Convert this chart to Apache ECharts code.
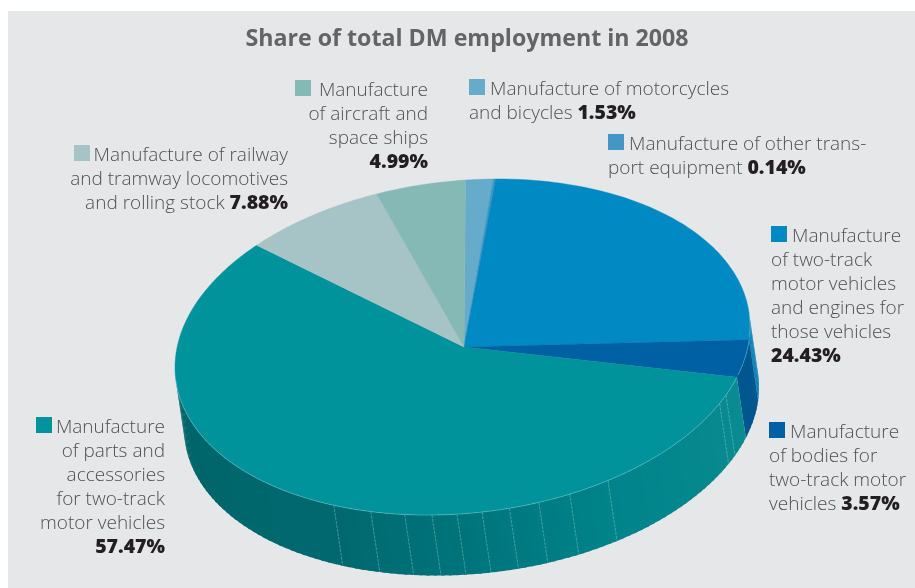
<!DOCTYPE html>
<html>
<head>
<meta charset="utf-8">
<style>html,body{margin:0;padding:0;background:#fff}#chart{width:915px;height:588px}</style>
<script src="https://cdn.jsdelivr.net/npm/echarts@6/dist/echarts.min.js"></script>
</head>
<body>
<div id="chart"></div>
<script>
// Employment shares, clockwise from twelve o'clock
const categories = [
  'Manufacture of motorcycles\nand bicycles',
  'Manufacture of other trans-\nport equipment',
  'Manufacture\nof two-track\nmotor vehicles\nand engines for\nthose vehicles',
  'Manufacture\nof bodies for\ntwo-track motor\nvehicles',
  'Manufacture\nof parts and\naccessories\nfor two-track\nmotor vehicles',
  'Manufacture of railway\nand tramway locomotives\nand rolling stock',
  'Manufacture\nof aircraft and\nspace ships'
];
const shares = [1.53, 0.14, 24.43, 3.57, 57.47, 7.88, 4.99];

const topColors = ['#66abc9', '#4497c4', '#0089c2', '#0060a4', '#00939c', '#a6c4c5', '#85b9b6'];
const wallColors = ['#5a9ab5', '#3a88b0', '#0a82b8', '#00578f', null, '#8fb0b0', '#74a5a2'];
// Shading of the long front wall, by angle in degrees
const wallStops = [[106, '#0b8b92'], [150, '#00838a'], [180, '#00747b'], [205, '#00696f'], [265, '#00646a']];
// Seams between wall facets, by angle in degrees
const facetAngles = [113, 116, 149, 157.5, 164, 170, 175.5, 180.5, 185.5, 191, 198, 206];

// Text placement: sq = marker corner, x = text anchor, y = first line centre
const labelPlaces = [
  { sq: [469, 79], x: 469, first: 490, y: 89.5, align: 'left', own: false },
  { sq: [608, 134], x: 608, first: 629, y: 144.5, align: 'left', own: false },
  { sq: [771, 226], x: 771, first: 792, y: 236.5, align: 'left', own: true },
  { sq: [769, 422], x: 769, first: 790, y: 432.5, align: 'left', own: false },
  { sq: [36, 417], x: 165, first: 165, y: 427.5, align: 'right', own: true },
  { sq: [74, 145], x: 288, first: 288, y: 155.5, align: 'right', own: false },
  { sq: [295, 80], x: 428, first: 428, y: 90.5, align: 'right', own: true }
];

const FONT = '"Open Sans", sans-serif';
const apex = [464, 347];
const rimCentre = [462.5, 347];
const U = [287.5, -18.7];
const V = [3, -167];
const D = [9, 60.5];
const rad = Math.PI / 180;

const total = shares.reduce((a, b) => a + b, 0);
const starts = [];
shares.reduce((acc, s, i) => { starts[i] = acc; return acc + s; }, 0);

function rim(t) {
  const s = Math.sin(t * rad), c = Math.cos(t * rad);
  return [rimCentre[0] + U[0] * s + V[0] * c, rimCentre[1] + U[1] * s + V[1] * c];
}
function drop(p) { return [p[0] + D[0], p[1] + D[1]]; }
function wallFaces(t) {
  const s = Math.sin(t * rad), c = Math.cos(t * rad);
  const px = U[0] * c - V[0] * s, py = U[1] * c - V[1] * s;
  return D[0] * py - D[1] * px > 0;
}
function hex(c) { return [1, 3, 5].map(k => parseInt(c.slice(k, k + 2), 16)); }
function stopColor(t) {
  if (t <= wallStops[0][0]) return wallStops[0][1];
  for (let i = 1; i < wallStops.length; i++) {
    if (t <= wallStops[i][0]) {
      const a = wallStops[i - 1], b = wallStops[i];
      const f = (t - a[0]) / (b[0] - a[0]);
      const ca = hex(a[1]), cb = hex(b[1]);
      return 'rgb(' + ca.map((v, k) => Math.round(v + (cb[k] - v) * f)).join(',') + ')';
    }
  }
  return wallStops[wallStops.length - 1][1];
}

function renderSlice(params, api) {
  const i = params.dataIndex;
  const t0 = starts[i] / total * 360;
  const t1 = (starts[i] + api.value(1)) / total * 360;
  const children = [];
  const step = 1.5;

  // Side wall of the slice; each facet runs a little under the next to hide joins
  for (let t = t0; t < t1; t += step) {
    const e = Math.min(t + step, t1);
    if (!wallFaces((t + e) / 2)) continue;
    const col = wallColors[i] || stopColor((t + e) / 2);
    const a = rim(t), b = rim(Math.min(e + 0.6, t1));
    children.push({
      type: 'polygon',
      shape: { points: [a, b, drop(b), drop(a)] },
      style: { fill: col }
    });
  }

  // Pale seams across the wall
  facetAngles.filter(t => t >= t0 && t < t1).forEach(t => {
    const a = rim(t), b = drop(a);
    children.push({
      type: 'line',
      shape: { x1: a[0], y1: a[1], x2: b[0], y2: b[1] },
      style: { stroke: 'rgba(165,215,220,0.5)', lineWidth: 0.8, lineDash: [3, 1] }
    });
  });

  // Upper face
  const pts = [apex];
  for (let t = t0; t < t1; t += 1) pts.push(rim(t));
  pts.push(rim(t1));
  children.push({
    type: 'polygon',
    shape: { points: pts },
    style: { fill: topColors[i], stroke: topColors[i], lineWidth: 0.4 }
  });

  // Light edge where the upper face meets the front wall
  const edge = [];
  for (let t = Math.max(t0, 85); t <= Math.min(t1, 265); t += 1) edge.push(rim(t));
  if (edge.length > 1) {
    children.push({
      type: 'polyline',
      shape: { points: edge },
      style: { stroke: 'rgba(190,228,232,0.45)', lineWidth: 0.7, fill: null }
    });
  }
  return { type: 'group', children };
}

function renderLabel(params, api) {
  const i = params.dataIndex;
  const place = labelPlaces[i];
  const pct = api.value(1).toFixed(2) + '%';
  const lines = categories[i].split('\n').map(s => '{t|' + s + '}');
  if (place.own) lines.push('{b|' + pct + '}');
  else lines[lines.length - 1] = lines[lines.length - 1] + '{t| }{b|' + pct + '}';
  const rich = {
    t: { font: '300 19px ' + FONT, fill: '#4f5052' },
    b: { font: '800 19.5px ' + FONT, fill: '#231f20' }
  };
  const children = [{
    type: 'rect',
    shape: { x: place.sq[0], y: place.sq[1], width: 16, height: 16 },
    style: { fill: topColors[i] }
  }];
  lines.forEach((line, k) => {
    children.push({
      type: 'text',
      style: {
        text: line, rich,
        x: k === 0 ? place.first : place.x,
        y: place.y + k * 24,
        align: place.align,
        verticalAlign: 'middle'
      }
    });
  });
  return { type: 'group', children };
}

const rows = categories.map((name, i) => ({ name, value: [i, shares[i]] }));

const chart = echarts.init(document.getElementById('chart'), null, { renderer: 'canvas' });
chart.setOption({
  animation: false,
  backgroundColor: '#ffffff',
  title: {
    text: 'Share of total DM employment in 2008',
    left: 462,
    top: 23,
    textAlign: 'center',
    textStyle: { color: '#636466', fontFamily: FONT, fontWeight: 700, fontSize: 23.2 }
  },
  graphic: [{
    type: 'rect', z: -1, silent: true,
    shape: { x: 8, y: 11, width: 907, height: 577 },
    style: { fill: '#e6e7e9' }
  }],
  series: [
    { type: 'custom', coordinateSystem: 'none', silent: true, data: rows, renderItem: renderSlice },
    { type: 'custom', coordinateSystem: 'none', silent: true, data: rows, renderItem: renderLabel }
  ]
});
</script>
</body>
</html>
